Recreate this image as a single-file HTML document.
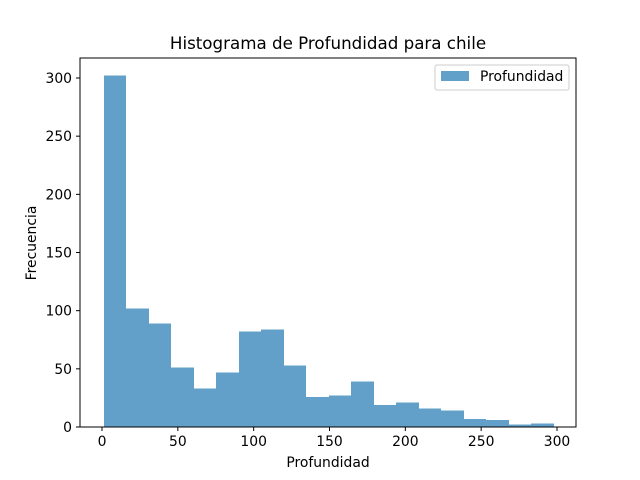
<!DOCTYPE html>
<html><head><meta charset="utf-8"><style>
body{margin:0;background:#fff;}
svg{display:block;font-family:"DejaVu Sans","Liberation Sans",sans-serif;}
</style></head><body>
<svg id="chart" width="640" height="480">
<rect width="640" height="480" fill="#fff"/>
<text x="328" y="49" font-size="16.7" text-anchor="middle">Histograma de Profundidad para chile</text>
<g id="bars" shape-rendering="crispEdges"></g>
<g id="xticks"></g>
<g id="yticks"></g>
<rect x="80" y="58" width="496" height="369" fill="none" stroke="#000" stroke-width="1" shape-rendering="crispEdges"/>
<text x="328" y="467" font-size="13.9" text-anchor="middle">Profundidad</text>
<text x="36" y="243" font-size="13.9" text-anchor="middle" transform="rotate(-90 36 243)">Frecuencia</text>
<g>
<rect x="435" y="65" width="134" height="25" fill="#fff" stroke="#ccc" rx="2"/>
<rect x="441" y="71" width="28" height="10" fill="#1f77b4" fill-opacity="0.7"/>
<text x="480" y="81" font-size="13.9">Profundidad</text>
</g>
</svg>
<script>
const binStart = 1;
const binEnd = 298;
const counts = [302,102,89,51,33,47,82,84,53,26,27,39,19,21,16,14,7,6,2,3];
const xTicks = [0,50,100,150,200,250,300];
const yTicks = [0,50,100,150,200,250,300];
const NS="http://www.w3.org/2000/svg";
function xs(v){return 102+v*(455/300);}
function ys(v){return 427-v*(349/300);}
const bars=document.getElementById('bars');
const w=(binEnd-binStart)/counts.length;
counts.forEach((c,i)=>{
  const r=document.createElementNS(NS,'rect');
  const x0=Math.round(xs(binStart+i*w)), x1=Math.round(xs(binStart+(i+1)*w));
  r.setAttribute('x',x0);r.setAttribute('width',x1-x0);
  r.setAttribute('y',ys(c));r.setAttribute('height',ys(0)-ys(c));
  r.setAttribute('fill','#62a0ca');
  
  
  bars.appendChild(r);
});
const xg=document.getElementById('xticks');
xTicks.forEach(t=>{
  const l=document.createElementNS(NS,'line');
  l.setAttribute('x1',xs(t));l.setAttribute('x2',xs(t));l.setAttribute('y1',427);l.setAttribute('y2',431);l.setAttribute('stroke','#000');
  
  
  xg.appendChild(l);
  const tx=document.createElementNS(NS,'text');
  tx.setAttribute('x',xs(t));tx.setAttribute('y',446);tx.setAttribute('font-size','13.9');tx.setAttribute('text-anchor','middle');
  tx.textContent=t;
  
  
  xg.appendChild(tx);
});
const yg=document.getElementById('yticks');
yTicks.forEach(t=>{
  const l=document.createElementNS(NS,'line');
  l.setAttribute('x1',76);l.setAttribute('x2',80);l.setAttribute('y1',ys(t));l.setAttribute('y2',ys(t));l.setAttribute('stroke','#000');
  
  
  yg.appendChild(l);
  const tx=document.createElementNS(NS,'text');
  tx.setAttribute('x',72);tx.setAttribute('y',ys(t)+5);tx.setAttribute('font-size','13.9');tx.setAttribute('text-anchor','end');
  tx.textContent=t;
  
  
  yg.appendChild(tx);
});
</script>
</body></html>
